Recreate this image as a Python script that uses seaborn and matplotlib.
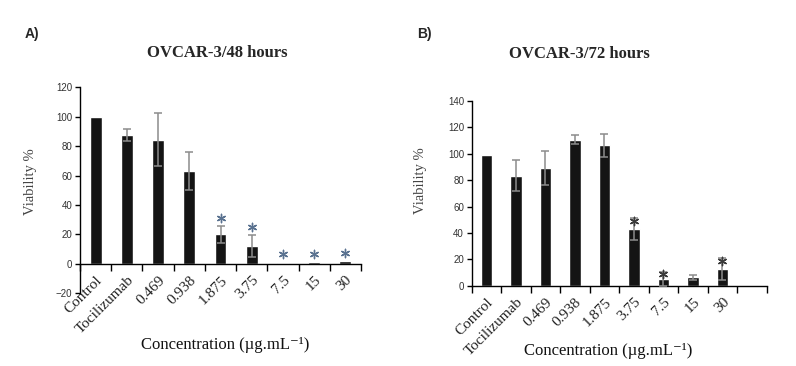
import numpy as np
import matplotlib
matplotlib.use("Agg")
import matplotlib.pyplot as plt
import seaborn as sns

# ---- data ----
categories = ["Control", "Tocilizumab", "0.469", "0.938", "1.875", "3.75", "7.5", "15", "30"]

viab_48 = [100.0, 87.5, 84.5, 63.0, 20.0, 12.0, 0.9, 1.1, 2.0]
err_48 = [0.0, 4.0, 18.0, 12.8, 6.0, 7.6, 0.0, 0.0, 0.0]
sig_48 = [False, False, False, False, True, True, True, True, True]

viab_72 = [99.3, 83.3, 89.3, 110.8, 106.3, 43.0, 5.0, 6.3, 12.5]
err_72 = [0.0, 11.8, 12.8, 3.2, 8.8, 8.0, 5.5, 2.0, 8.4]
sig_72 = [False, False, False, False, False, True, True, False, True]

title_48 = "OVCAR-3/48 hours"
title_72 = "OVCAR-3/72 hours"
ylabel = "Viability %"
xlabel = "Concentration (µg.mL⁻¹)"

# ---- style ----
sns.set_style("white")
plt.rcParams["font.family"] = ["Liberation Serif", "DejaVu Serif"]

W, H = 796, 366
fig = plt.figure(figsize=(W / 100, H / 100), dpi=100)


def px_axes(left, top, right, bottom):
    return fig.add_axes([left / W, 1 - bottom / H, (right - left) / W, (bottom - top) / H])


def fig_text(x, y, s, **kw):
    fig.text(x / W, 1 - y / H, s, **kw)


def panel(ax, vals, errs, sig, ylim, yticks, nslots, star_off, star_color, bottom_at_zero):
    sns.barplot(x=categories, y=vals, order=categories, color="#141414",
                width=0.38, errorbar=None, ax=ax, saturation=1)
    idx = [i for i, e in enumerate(errs) if e > 0]
    ax.errorbar([i for i in idx], [vals[i] for i in idx], yerr=[errs[i] for i in idx],
                fmt="none", ecolor="#8c8c8c", elinewidth=1.1, capsize=3.2, capthick=1.1, zorder=3)
    sx = [i for i, s in enumerate(sig) if s]
    sy = [vals[i] + errs[i] + star_off for i in sx]
    ax.scatter(sx, sy, marker=(6, 2, 0), s=36, color=star_color, linewidths=1.0, zorder=4)
    ax.set_ylim(*ylim)
    ax.set_yticks(yticks)
    ax.set_xlim(-0.5, nslots - 0.5)
    for side in ["top", "right"]:
        ax.spines[side].set_visible(False)
    for side in ["left", "bottom"]:
        ax.spines[side].set_color("black")
        ax.spines[side].set_linewidth(1.0)
    if bottom_at_zero:
        ax.spines["bottom"].set_position(("data", 0))
    ax.set_xticks(np.arange(len(categories)))
    ax.set_xticklabels(categories, rotation=45, ha="right", rotation_mode="anchor",
                       fontsize=11, color="#222222")
    ax.set_xticks(np.arange(-0.5, nslots), minor=True)
    ax.tick_params(axis="x", which="major", bottom=True, length=0, pad=7)
    ax.tick_params(axis="x", which="minor", bottom=True, length=5, width=1, color="black",
                   direction="out")
    ax.tick_params(axis="y", which="major", left=True, length=3.5, width=1, color="black",
                   direction="out", labelsize=7, labelcolor="#333333", pad=2)
    for lab in ax.get_yticklabels():
        lab.set_fontfamily(["Liberation Sans", "DejaVu Sans"])
    ax.set_xlabel("")
    ax.set_ylabel(ylabel, fontsize=10.5, color="#444444")
    ax.grid(False)


axA = px_axes(80, 87.3, 361, 293.3)
panel(axA, viab_48, err_48, sig_48, (-20, 120), np.arange(-20, 121, 20), 9, 5.5, "#5a7290", True)
axA.yaxis.set_label_coords(-0.153, 0.54)

axB = px_axes(471.7, 101, 766.7, 285.7)
panel(axB, viab_72, err_72, sig_72, (0, 140), np.arange(0, 141, 20), 10, -2.0, "#3a3a3a", False)
axB.yaxis.set_label_coords(-0.152, 0.567)

# titles and labels
fig_text(217.5, 53, title_48, ha="center", va="center", fontsize=12, fontweight="bold")
fig_text(579, 54, title_72, ha="center", va="center", fontsize=12, fontweight="bold")
fig_text(225, 345, xlabel, ha="center", va="center", fontsize=12, color="#111111")
fig_text(608, 351, xlabel, ha="center", va="center", fontsize=12, color="#111111")
fig_text(32, 34, "A)", ha="center", va="center", fontsize=10, fontweight="bold",
         family=["Liberation Sans", "DejaVu Sans"])
fig_text(424, 34, "B)", ha="center", va="center", fontsize=10, fontweight="bold",
         family=["Liberation Sans", "DejaVu Sans"])

fig.savefig("out.png", dpi=100, facecolor="white")
